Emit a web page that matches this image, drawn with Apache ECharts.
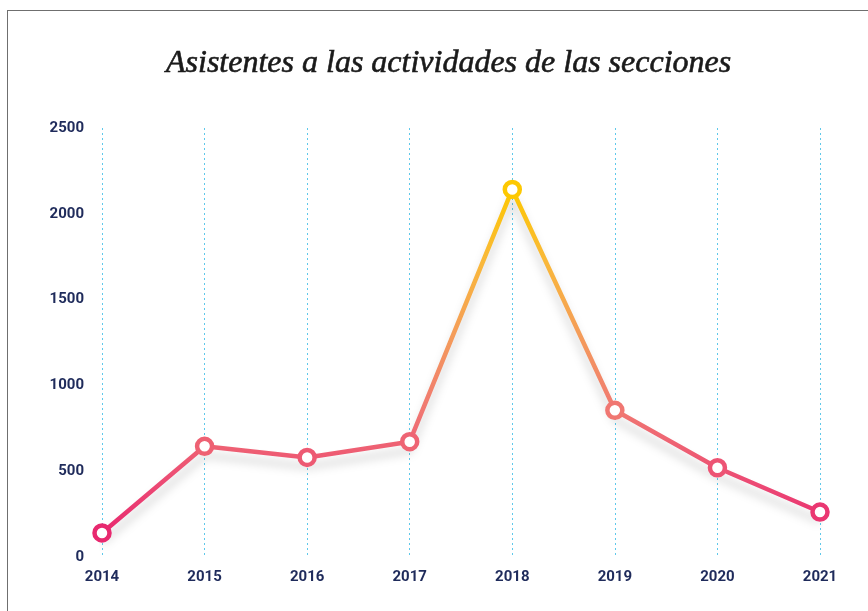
<!DOCTYPE html>
<html>
<head>
<meta charset="utf-8">
<script src="https://cdn.jsdelivr.net/npm/echarts@6/dist/echarts.min.js"></script>
<style>
  html, body { margin: 0; padding: 0; background: #fff; overflow: hidden; }
  #frame {
    position: absolute;
    left: 7px;
    top: 10px;
    width: 900px;
    height: 700px;
    border: 1.5px solid #6f6f6f;
  }
  #chart { position: absolute; left: 0; top: 0; width: 868px; height: 611px; }
</style>
</head>
<body>
<div id="frame"></div>
<div id="chart"></div>
<script>
const years = ['2014', '2015', '2016', '2017', '2018', '2019', '2020', '2021'];
const asistentes = [140, 645, 580, 672, 2142, 855, 520, 262];
const yTicks = [0, 500, 1000, 1500, 2000, 2500];

// colour ramp pink -> yellow, by value
const ramp = ['#e6196c', '#ec4a74', '#f07872', '#f49c5a', '#f9b83a', '#fdc800'];
const rampMax = 2150;
const colorFor = v => echarts.color.lerp(Math.min(v / rampMax, 1), ramp);

const myChart = echarts.init(document.getElementById('chart'));

const option = {
  title: {
    text: 'Asistentes a las actividades de las secciones',
    left: 161,
    top: 43,
    textStyle: {
      fontFamily: 'Liberation Serif',
      fontStyle: 'italic',
      fontWeight: 'normal',
      fontSize: 32,
      color: '#1a1a1a',
      textBorderColor: '#1a1a1a',
      textBorderWidth: 0.6
    }
  },
  grid: {
    left: 102,
    right: 48,
    top: 128,
    bottom: 54
  },
  visualMap: {
    show: false,
    type: 'continuous',
    seriesIndex: 0,
    dimension: 1,
    min: 0,
    max: rampMax,
    inRange: { color: ramp }
  },
  xAxis: {
    type: 'category',
    data: years,
    boundaryGap: false,
    axisLine: { show: false },
    axisTick: { show: false },
    axisLabel: {
      margin: 13,
      fontFamily: 'Roboto',
      fontWeight: 'bold',
      fontSize: 15,
      color: '#1f2b5b'
    },
    splitLine: {
      show: true,
      lineStyle: { color: '#5ec8ea', width: 1, type: [2, 3] }
    }
  },
  yAxis: {
    type: 'value',
    min: yTicks[0],
    max: yTicks[yTicks.length - 1],
    interval: 500,
    axisLine: { show: false },
    axisTick: { show: false },
    splitLine: { show: false },
    axisLabel: {
      margin: 18,
      formatter: v => String(v),
      fontFamily: 'Roboto',
      fontWeight: 'bold',
      fontSize: 15,
      color: '#1f2b5b'
    }
  },
  series: [
    {
      type: 'line',
      data: asistentes,
      symbol: 'none',
      lineStyle: {
        width: 4.5,
        shadowColor: 'rgba(0,0,0,0.18)',
        shadowBlur: 10,
        shadowOffsetY: 9
      },
      z: 2
    },
    {
      type: 'scatter',
      data: asistentes.map(v => ({ value: v, itemStyle: { borderColor: colorFor(v) } })),
      symbol: 'circle',
      symbolSize: 15,
      itemStyle: {
        color: '#ffffff',
        borderWidth: 4.5,
        opacity: 1
      },
      z: 3
    }
  ]
};
myChart.setOption(option);
</script>
</body>
</html>
